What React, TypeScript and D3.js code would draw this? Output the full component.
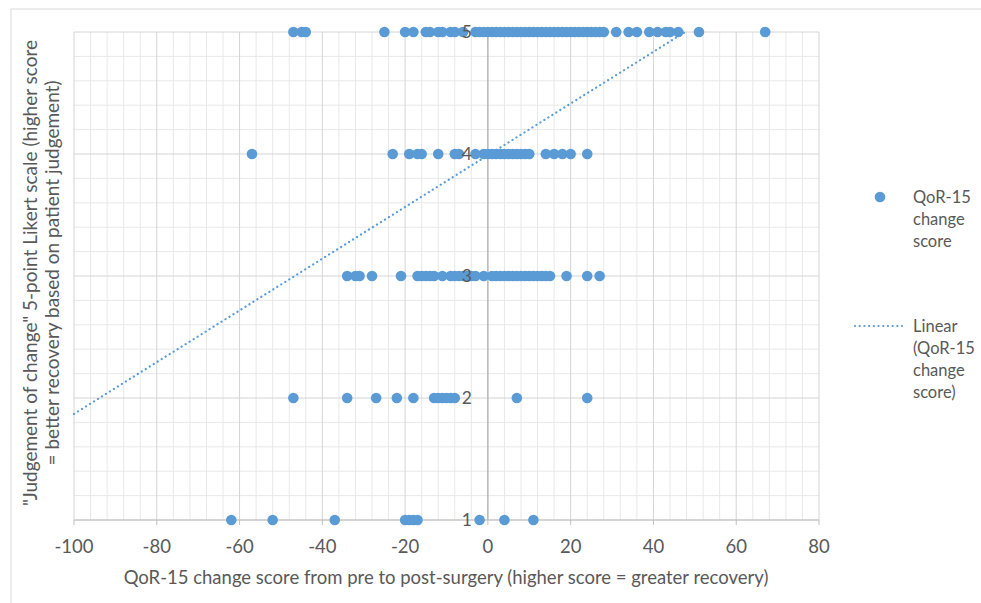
import * as d3 from "d3";

// QoR-15 change score (x) grouped by "judgement of change" level (y)
const level5 = [-47, -45, -44, -25, -20, -18, -15, -14, -12, -11, -9, -8, -6, -3, -2, -1, 0, 1, 2, 3, 4, 5, 6, 7, 8, 9, 10, 11, 12, 13, 14, 15, 16, 17, 18, 19, 20, 21, 22, 23, 24, 25, 26, 27, 28, 31, 34, 36, 39, 41, 43, 44, 46, 51, 67];
const level4 = [-57, -23, -19, -17, -16, -12, -8, -7, -3, -1, 0, 1, 2, 3, 4, 5, 6, 7, 8, 9, 10, 14, 16, 18, 20, 24];
const level3 = [-34, -32, -31, -28, -21, -17, -16, -15, -14, -13, -11, -9, -8, -7, -6, -5, -4, -3, -1, 1, 2, 3, 4, 5, 6, 7, 8, 9, 10, 11, 12, 13, 14, 15, 19, 24, 27];
const level2 = [-47, -34, -27, -22, -18, -13, -12, -11, -10, -9, -8, 7, 24];
const level1 = [-62, -52, -37, -20, -19, -18, -17, -2, 4, 11];

const levels = [5, 4, 3, 2, 1];
const levelValues = [level5, level4, level3, level2, level1];

const xTicks = [-100, -80, -60, -40, -20, 0, 20, 40, 60, 80];
const yTicks = [1, 2, 3, 4, 5];

// linear trend line
const trendSlope = 0.0212;
const trendIntercept = 3.99;

const xTitle = "QoR-15 change score from pre to post-surgery (higher score = greater recovery)";
const yTitle = ["\"Judgement of change\" 5-point Likert scale (higher score", "= better recovery based on patient judgement)"];
const legendScatter = ["QoR-15", "change", "score"];
const legendTrend = ["Linear", "(QoR-15", "change", "score)"];

const W = 981, H = 603;
const FONT = "Lato, 'Open Sans', sans-serif";
const BLUE = "#5b9bd5";
const TXT = "#595959";
const FS = 18.5;
const LEG_FS = 16.5;

export default function App() {
  const x = d3.scaleLinear().domain([-100, 80]).range([74, 819]);
  const y = d3.scaleLinear().domain([1, 5]).range([520, 32]);

  const minorX = d3.range(-100, 80.01, 4).filter((v) => v % 20 !== 0);
  const minorY = d3.range(1, 5.001, 0.2).filter((v) => Math.abs(v - Math.round(v)) > 1e-6);

  const pts = levelValues.flatMap((vals, i) => vals.map((v) => ({ x: v, y: levels[i] })));

  const tx0 = -100;
  const tx1 = Math.min(80, (5 - trendIntercept) / trendSlope);
  const fy = (v: number) => trendIntercept + trendSlope * v;

  return (
    <div style={{ position: "fixed", left: 0, top: 0 }}>
      <svg width={W} height={H} style={{ display: "block", background: "#fff" }}>
        {/* chart frame (only top/left edges visible) */}
        <rect x={11} y={9} width={W} height={H} fill="none" stroke="#d9d9d9" strokeWidth={1} />

        {/* minor grid */}
        {minorX.map((v) => (
          <line key={`mx${v}`} x1={x(v)} x2={x(v)} y1={y(5)} y2={y(1)} stroke="#e8e8e8" />
        ))}
        {minorY.map((v) => (
          <line key={`my${v}`} x1={x(-100)} x2={x(80)} y1={y(v)} y2={y(v)} stroke="#e8e8e8" />
        ))}
        {/* major grid */}
        {xTicks.map((v) => (
          <line key={`gx${v}`} x1={x(v)} x2={x(v)} y1={y(5)} y2={y(1)} stroke="#d4d4d4" />
        ))}
        {yTicks.map((v) => (
          <line key={`gy${v}`} x1={x(-100)} x2={x(80)} y1={y(v)} y2={y(v)} stroke="#d4d4d4" />
        ))}

        {/* axes: vertical axis crosses at x = 0 */}
        <line x1={x(0)} x2={x(0)} y1={y(5)} y2={y(1)} stroke="#a6a6a6" />
        <line x1={x(-100)} x2={x(80)} y1={y(1)} y2={y(1)} stroke="#bfbfbf" />
        {xTicks.map((v) => (
          <line key={`tx${v}`} x1={x(v)} x2={x(v)} y1={y(1)} y2={y(1) + 5} stroke="#bfbfbf" />
        ))}

        {/* trend line */}
        <line x1={x(tx0)} y1={y(fy(tx0))} x2={x(tx1)} y2={y(fy(tx1))} stroke={BLUE} strokeWidth={2.2} strokeDasharray="0.1 4.6" strokeLinecap="round" />

        {/* points */}
        {pts.map((p, i) => (
          <circle key={i} cx={x(p.x)} cy={y(p.y)} r={5.3} fill={BLUE} />
        ))}

        {/* y tick labels next to the axis at 0 */}
        {yTicks.map((v) => (
          <text key={`yl${v}`} x={x(0) - 16} y={y(v) + 6} textAnchor="end" fontSize={17.5} fontFamily={FONT} fill={TXT}>{v}</text>
        ))}
        {/* x tick labels */}
        {xTicks.map((v) => (
          <text key={`xl${v}`} x={x(v)} y={553} textAnchor="middle" fontSize={FS} fontFamily={FONT} fill={TXT}>{v}</text>
        ))}

        {/* axis titles */}
        <text x={446} y={584} textAnchor="middle" fontSize={FS} fontFamily={FONT} fill={TXT}>{xTitle}</text>
        {yTitle.map((t, i) => (
          <text key={i} transform={`translate(${37 + i * 22},${273}) rotate(-90)`} textAnchor="middle" fontSize={FS + 0.5} fontFamily={FONT} fill={TXT}>{t}</text>
        ))}

        {/* legend */}
        <circle cx={880} cy={197} r={5.3} fill={BLUE} />
        {legendScatter.map((t, i) => (
          <text key={`ls${i}`} x={913} y={203 + i * 22} fontSize={LEG_FS} fontFamily={FONT} fill={TXT}>{t}</text>
        ))}
        <line x1={855} x2={902} y1={326} y2={326} stroke={BLUE} strokeWidth={2.2} strokeDasharray="0.1 4.6" strokeLinecap="round" />
        {legendTrend.map((t, i) => (
          <text key={`lt${i}`} x={913} y={332 + i * 22} fontSize={LEG_FS} fontFamily={FONT} fill={TXT}>{t}</text>
        ))}
      </svg>
    </div>
  );
}
